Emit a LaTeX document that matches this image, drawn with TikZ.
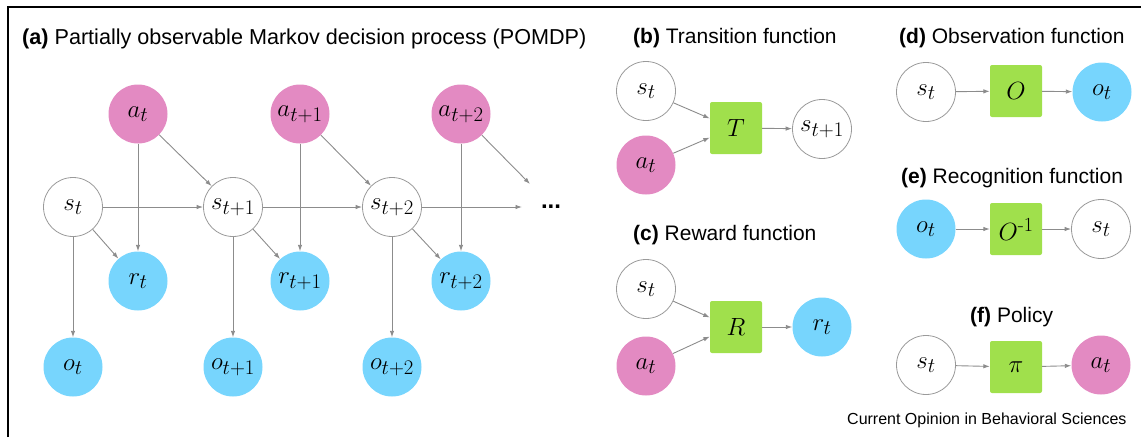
\documentclass[tikz,border=0pt]{standalone}
\usepackage{amsmath}
\usepackage{fontspec}
\newfontfamily\headfont{Liberation Sans}
\DeclareMathSizes{24}{24}{20}{15}
\usetikzlibrary{arrows.meta,calc}
\definecolor{pinkc}{HTML}{E38AC2}
\definecolor{bluec}{HTML}{77D5FD}
\definecolor{greenc}{HTML}{A0E04C}
\definecolor{arrowc}{HTML}{8C8C8C}
\definecolor{outlc}{HTML}{9A9A9A}
\begin{document}
\begin{tikzpicture}[x=1pt,y=-1pt,
  lbl/.style={inner sep=0pt,font=\fontsize{24}{28}\selectfont},
  wn/.style={lbl,circle,draw=outlc,line width=0.8pt,fill=white,minimum size=59pt},
  pn/.style={lbl,circle,fill=pinkc,minimum size=59pt},
  bn/.style={lbl,circle,fill=bluec,minimum size=59pt},
  gb/.style={lbl,rectangle,rounded corners=2pt,fill=greenc,minimum size=52pt},
  ar/.style={draw=arrowc,line width=0.9pt,-{Latex[length=6.5pt,width=4.5pt]}},
  ttl/.style={anchor=base west,inner sep=0pt,font=\headfont\fontsize{21}{25}\selectfont},
]
\useasboundingbox (0,0) rectangle (1141,437);
\draw[line width=2pt] (8,437) -- (8,7) -- (1141,7);

% ---------- (a) ----------
\node[ttl,font=\headfont\fontsize{21.6}{25}\selectfont] (ta) at (22,44) {\textbf{(a)} Partially observable Markov decision process (POMDP)};
\node[wn] (s0) at (73,207) {$s_t$};
\node[wn] (s1) at (233,207) {$s_{t+1}$};
\node[wn] (s2) at (392,207) {$s_{t+2}$};
\node[pn] (a0) at (138,114) {$a_t$};
\node[pn] (a1) at (300,114) {$a_{t+1}$};
\node[pn] (a2) at (461,114) {$a_{t+2}$};
\node[bn] (r0) at (138,281) {$r_t$};
\node[bn] (r1) at (300,281) {$r_{t+1}$};
\node[bn] (r2) at (461,281) {$r_{t+2}$};
\node[bn] (o0) at (73,367) {$o_t$};
\node[bn] (o1) at (233,367) {$o_{t+1}$};
\node[bn] (o2) at (392,367) {$o_{t+2}$};
\coordinate (send) at (522,207);
\coordinate (aend) at (530,184);
\node[inner sep=0pt,font=\headfont\bfseries\fontsize{24}{28}\selectfont] (dots) at (551,207) {...};

\draw[ar] (s0) -- (s1);
\draw[ar] (s1) -- (s2);
\draw[ar] (s2) -- (send);
\draw[ar] (a0) -- (s1);
\draw[ar] (a1) -- (s2);
\draw[ar] (a2) -- (aend);
\draw[ar] (a0) -- (r0);
\draw[ar] (a1) -- (r1);
\draw[ar] (a2) -- (r2);
\draw[ar] (s0) -- (r0);
\draw[ar] (s1) -- (r1);
\draw[ar] (s2) -- (r2);
\draw[ar] (s0) -- (o0);
\draw[ar] (s1) -- (o1);
\draw[ar] (s2) -- (o2);

% ---------- (b) ----------
\node[ttl] (tb) at (633,43) {\textbf{(b)} Transition function};
\node[wn] (bs) at (646,91) {$s_t$};
\node[pn] (ba) at (646,165) {$a_t$};
\node[gb] (bT) at (736,128) {$T$};
\node[wn] (bs1) at (822,129) {$s_{t+1}$};
\draw[ar] (bs) -- (bT.160);
\draw[ar] (ba) -- (bT.200);
\draw[ar] (bT) -- (bs1);

% ---------- (c) ----------
\node[ttl] (tc) at (633,240) {\textbf{(c)} Reward function};
\node[wn] (cs) at (646,289) {$s_t$};
\node[pn] (ca) at (646,366) {$a_t$};
\node[gb] (cR) at (736,327) {$R$};
\node[bn] (cr) at (822,327) {$r_t$};
\draw[ar] (cs) -- (cR.160);
\draw[ar] (ca) -- (cR.200);
\draw[ar] (cR) -- (cr);

% ---------- (d) ----------
\node[ttl] (td) at (899,43) {\textbf{(d)} Observation function};
\node[wn] (ds) at (926,92) {$s_t$};
\node[gb] (dO) at (1016,91) {$O$};
\node[bn] (do) at (1102,92) {$o_t$};
\draw[ar] (ds) -- (dO);
\draw[ar] (dO) -- (do);

% ---------- (e) ----------
\node[ttl] (te) at (901,183) {\textbf{(e)} Recognition function};
\node[bn] (eo) at (926,229) {$o_t$};
\node[gb] (eO) at (1016,229) {$O^{\text{-1}}$};
\node[wn] (es) at (1101,229) {$s_t$};
\draw[ar] (eo) -- (eO);
\draw[ar] (eO) -- (es);

% ---------- (f) ----------
\node[ttl] (tf) at (970,322) {\textbf{(f)} Policy};
\node[wn] (fs) at (926,365) {$s_t$};
\node[gb] (fp) at (1016,367) {$\pi$};
\node[pn] (fa) at (1101,365) {$a_t$};
\draw[ar] (fs) -- (fp);
\draw[ar] (fp) -- (fa);

\node[anchor=base west,inner sep=0pt,font=\headfont\fontsize{16}{19}\selectfont] (credit) at (847,424) {Current Opinion in Behavioral Sciences};
\end{tikzpicture}
\end{document}
